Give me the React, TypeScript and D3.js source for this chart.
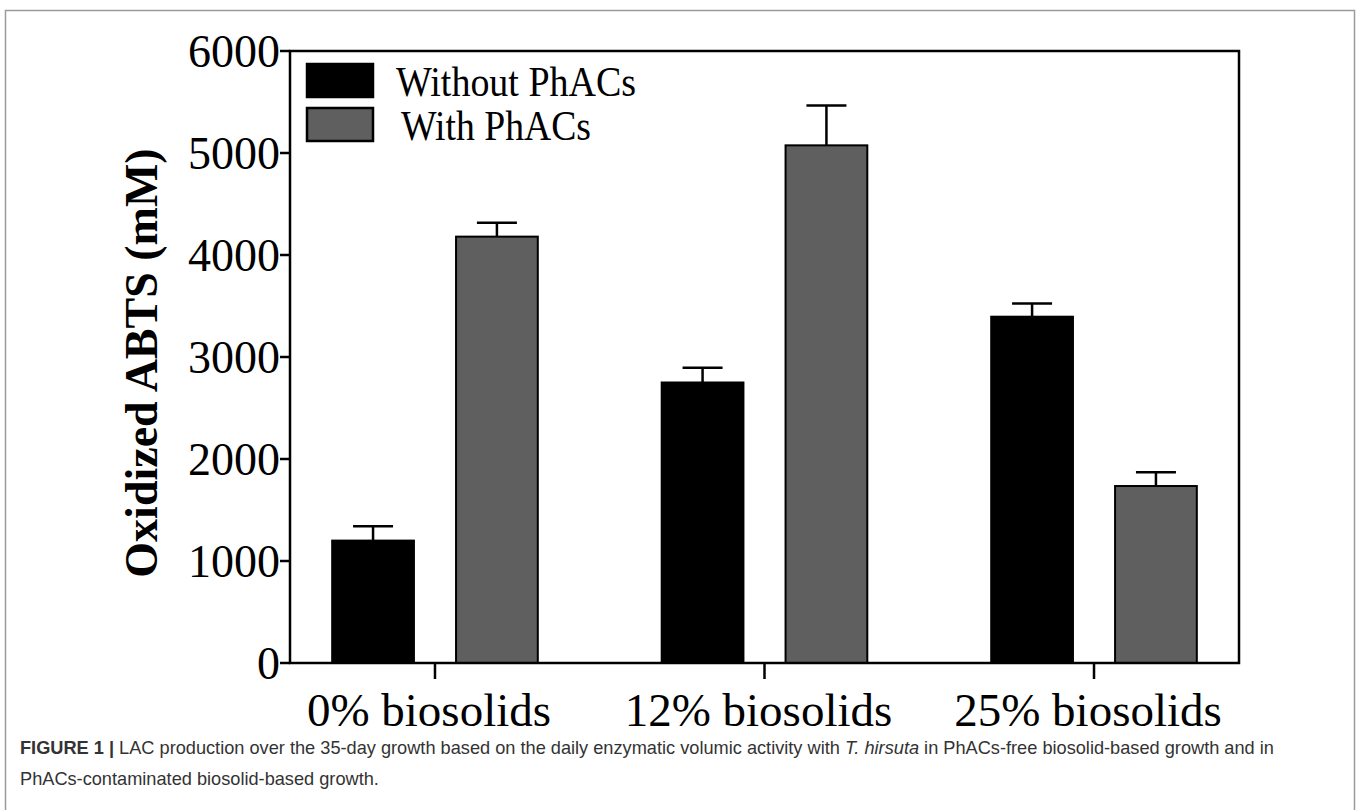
import React, { useRef, useEffect } from 'react'
import { select, scaleLinear, scaleBand } from 'd3'

const categories = ['0% biosolids', '12% biosolids', '25% biosolids']
const seriesNames = ['Without PhACs', 'With PhACs']
const withoutPhACs = [1200, 2750, 3395]
const withoutErr = [140, 145, 130]
const withPhACs = [4180, 5075, 1735]
const withErr = [135, 390, 135]
const yTicks = [0, 1000, 2000, 3000, 4000, 5000, 6000]

const W = 1358, H = 810

function App() {
  const ref = useRef<SVGSVGElement>(null)

  useEffect(() => {
    const svg = select(ref.current)
    svg.selectAll('*').remove()

    const left = 290, right = 1239, top = 51, bottom = 663
    const y = scaleLinear().domain([0, 6000]).range([bottom, top])
    const x = scaleBand().domain(categories).range([left, right])
      .paddingInner(0.376).paddingOuter(0.128)
    const xs = scaleBand().domain(seriesNames).range([0, x.bandwidth()]).paddingInner(0.34)
    const fills = ['#000000', '#5f5f5f']
    const vals = [withoutPhACs, withPhACs]
    const errs = [withoutErr, withErr]
    const serif = '"Liberation Serif", "Times New Roman", serif'

    // outer figure border
    svg.append('rect')
      .attr('x', 5.5).attr('y', 10.5)
      .attr('width', 1349).attr('height', 820)
      .attr('fill', 'none').attr('stroke', '#9a9a9a').attr('stroke-width', 1.5)

    const g = svg.append('g')

    // bars + error bars
    seriesNames.forEach((s, si) => {
      categories.forEach((c, ci) => {
        const v = vals[si][ci]
        const e = errs[si][ci]
        const bx = (x(c) as number) + (xs(s) as number)
        const bw = xs.bandwidth()
        const cx = bx + bw / 2
        g.append('line')
          .attr('x1', cx).attr('x2', cx)
          .attr('y1', y(v)).attr('y2', y(v + e))
          .attr('stroke', '#000').attr('stroke-width', 2.5)
        g.append('line')
          .attr('x1', cx - 20).attr('x2', cx + 20)
          .attr('y1', y(v + e)).attr('y2', y(v + e))
          .attr('stroke', '#000').attr('stroke-width', 2.5)
        g.append('rect')
          .attr('x', bx).attr('y', y(v))
          .attr('width', bw).attr('height', y(0) - y(v))
          .attr('fill', fills[si])
          .attr('stroke', '#000').attr('stroke-width', 2)
      })
    })

    // frame
    g.append('rect')
      .attr('x', left).attr('y', top)
      .attr('width', right - left).attr('height', bottom - top)
      .attr('fill', 'none').attr('stroke', '#000').attr('stroke-width', 2.5)

    // y ticks
    yTicks.forEach(t => {
      g.append('line')
        .attr('x1', left - 10).attr('x2', left)
        .attr('y1', y(t)).attr('y2', y(t))
        .attr('stroke', '#000').attr('stroke-width', 2.5)
      g.append('text')
        .attr('x', left - 10).attr('y', y(t))
        .attr('dy', '0.34em')
        .attr('text-anchor', 'end')
        .attr('font-family', serif).attr('font-size', 46)
        .text(t)
    })

    // x ticks
    categories.forEach(c => {
      const cx = (x(c) as number) + x.bandwidth() / 2
      g.append('line')
        .attr('x1', cx).attr('x2', cx)
        .attr('y1', bottom).attr('y2', bottom + 16)
        .attr('stroke', '#000').attr('stroke-width', 2.5)
      g.append('text')
        .attr('x', cx - 6).attr('y', 726)
        .attr('text-anchor', 'middle')
        .attr('font-family', serif).attr('font-size', 47)
        .text(c)
    })

    // y title
    g.append('text')
      .attr('transform', `translate(157, ${(top + bottom) / 2 + 6}) rotate(-90)`)
      .attr('text-anchor', 'middle')
      .attr('font-family', serif).attr('font-size', 46).attr('font-weight', 'bold')
      .text('Oxidized ABTS (mM)')

    // legend
    const legendW = [240, 190]
    seriesNames.forEach((s, i) => {
      const ly = 64 + i * 44
      g.append('rect')
        .attr('x', 307).attr('y', ly)
        .attr('width', 66).attr('height', 33)
        .attr('fill', fills[i]).attr('stroke', '#000').attr('stroke-width', 2.5)
      g.append('text')
        .attr('x', i === 0 ? 396 : 401).attr('y', ly + 32)
        .attr('font-family', serif).attr('font-size', 43)
        .attr('textLength', legendW[i]).attr('lengthAdjust', 'spacingAndGlyphs')
        .text(s)
    })

    // caption
    const sans = '"Liberation Sans", Arial, sans-serif'
    const cap1 = g.append('text')
      .attr('x', 20).attr('y', 754)
      .attr('font-family', sans).attr('font-size', 18.2).attr('fill', '#333')
    cap1.append('tspan').attr('font-weight', 'bold').text('FIGURE 1 | ')
    cap1.append('tspan').text('LAC production over the 35-day growth based on the daily enzymatic volumic activity with ')
    cap1.append('tspan').attr('font-style', 'italic').text('T. hirsuta')
    cap1.append('tspan').text(' in PhACs-free biosolid-based growth and in')
    g.append('text')
      .attr('x', 20).attr('y', 785)
      .attr('font-family', sans).attr('font-size', 18.2).attr('fill', '#333')
      .text('PhACs-contaminated biosolid-based growth.')
  }, [])

  return (
    <svg ref={ref} width={W} height={H}
      style={{ position: 'absolute', left: 0, top: 0, background: '#fff' }} />
  )
}

export default App
